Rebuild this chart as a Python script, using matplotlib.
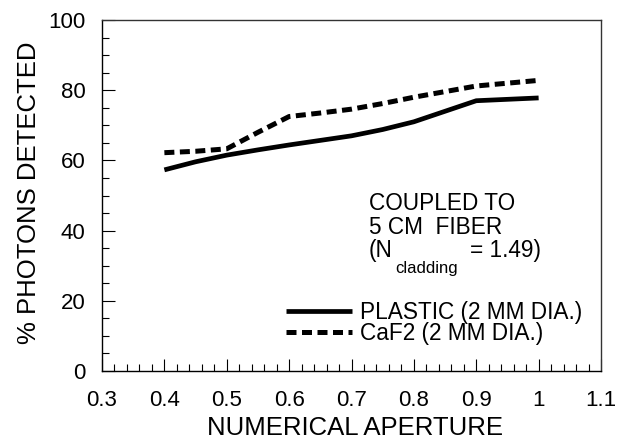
import matplotlib
matplotlib.use("Agg")
import matplotlib.pyplot as plt
from matplotlib.ticker import MultipleLocator

plt.rcParams['font.family'] = ['Liberation Sans', 'DejaVu Sans']

# Data
na_plastic = [0.40, 0.45, 0.50, 0.55, 0.60, 0.65, 0.70, 0.75, 0.80, 0.85, 0.90, 1.00]
plastic = [57.3, 59.6, 61.5, 63.0, 64.4, 65.7, 67.0, 68.8, 71.0, 74.0, 77.0, 77.8]
na_caf2 = [0.40, 0.45, 0.50, 0.55, 0.60, 0.65, 0.70, 0.75, 0.80, 0.85, 0.90, 0.95, 1.00]
caf2 = [62.2, 62.6, 63.3, 68.0, 72.5, 73.5, 74.6, 76.2, 78.0, 79.6, 81.2, 82.0, 82.8]
series_labels = ["PLASTIC (2 MM DIA.)", "CaF2 (2 MM DIA.)"]
xticks = [0.3, 0.4, 0.5, 0.6, 0.7, 0.8, 0.9, 1.0, 1.1]
xtick_labels = ["0.3", "0.4", "0.5", "0.6", "0.7", "0.8", "0.9", "1", "1.1"]
yticks = [0, 20, 40, 60, 80, 100]

W, H = 623, 440
fig = plt.figure(figsize=(W / 100, H / 100), dpi=100)
ax = fig.add_axes([102 / W, 1 - 371 / H, (601 - 102) / W, (371 - 20) / H])

l1, = ax.plot(na_plastic, plastic, color='black', lw=3.4, solid_capstyle='butt')
l2, = ax.plot(na_caf2, caf2, color='black', lw=3.6, dashes=(2.0, 1.1))

ax.set_xlim(0.3, 1.1)
ax.set_ylim(0, 100)
ax.set_xticks(xticks)
ax.set_xticklabels(xtick_labels)
ax.set_yticks(yticks)
ax.xaxis.set_minor_locator(MultipleLocator(0.02))
ax.yaxis.set_minor_locator(MultipleLocator(5))
ax.tick_params(which='both', direction='in', top=False, right=False, width=0.8)
ax.tick_params(which='major', length=9)
ax.tick_params(which='minor', length=5)
ax.tick_params(axis='y', which='major', pad=12, labelsize=16)
ax.tick_params(axis='x', which='major', pad=14, labelsize=16)
for s in ax.spines.values():
    s.set_linewidth(1.0)
ax.spines['top'].set_color('#333333')
ax.spines['right'].set_color('#333333')

fig.text(29 / W, 1 - 193 / H, "% PHOTONS DETECTED", rotation=90, fontsize=18.5,
         ha='center', va='center')
fig.text(355 / W, 1 - 428 / H, "NUMERICAL APERTURE", fontsize=18.5,
         ha='center', va='center')

def px(x, y):
    return (x / W, 1 - y / H)

fs = 16.3
fig.text(*px(369, 203), "COUPLED TO", fontsize=fs, ha='left', va='center')
fig.text(*px(369, 227), "5 CM  FIBER", fontsize=fs, ha='left', va='center')
fig.text(*px(369, 251), "(N", fontsize=fs, ha='left', va='center')
fig.text(*px(395, 268), "cladding", fontsize=12, ha='left', va='center')
fig.text(*px(470, 251), "= 1.49)", fontsize=fs, ha='left', va='center')

leg = ax.legend([l1, l2], series_labels, loc='upper left',
                bbox_to_anchor=(286 / W, 1 - 301 / H), bbox_transform=fig.transFigure,
                frameon=False, fontsize=fs, handlelength=2.9, handletextpad=0.35,
                labelspacing=-0.1, borderpad=0, borderaxespad=0)

fig.savefig("out.png", dpi=100)
